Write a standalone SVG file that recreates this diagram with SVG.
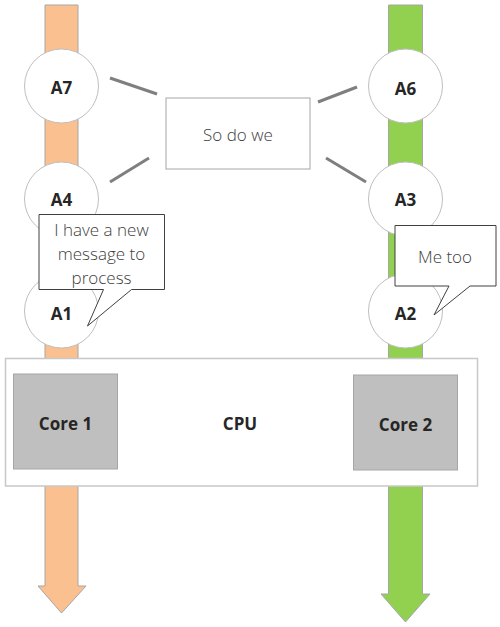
<svg xmlns="http://www.w3.org/2000/svg" width="500" height="627" viewBox="0 0 500 627">
<style>
.arrow{stroke:#a6a6a6;stroke-width:1}
.node circle{fill:#fff;stroke:#bfbfbf;stroke-width:1}
.lbl{font-family:"Open Sans","Noto Sans",sans-serif;font-weight:bold;font-size:17px;fill:#262626;text-anchor:middle;dominant-baseline:central}
.txt{font-family:"Open Sans","Noto Sans",sans-serif;font-weight:300;font-size:17px;fill:#404040;text-anchor:middle;dominant-baseline:central}
.conn line{stroke:#7f7f7f;stroke-width:3}
.bubble{fill:#fff;stroke:#404040;stroke-width:1}
.core{fill:#bfbfbf;stroke:#a6a6a6;stroke-width:1}
</style>
<g id="arrow-left"><path class="arrow" fill="#fac090" d="M45,5 H78 V586 H86 L61.5,613 L38,586 H45 Z"/></g>
<g id="arrow-right"><path class="arrow" fill="#92d050" d="M388.5,5 H422.5 V594 H430 L405.5,622 L381,594 H388.5 Z"/></g>
<g id="connectors" class="conn">
<line x1="110" y1="78" x2="157" y2="94"/>
<line x1="110" y1="182" x2="149" y2="158"/>
<line x1="318" y1="102" x2="357" y2="87"/>
<line x1="326" y1="158" x2="366" y2="182"/>
</g>
<g id="A7" class="node"><circle cx="61.5" cy="86" r="37"/><text class="lbl" x="61.5" y="87">A7</text></g>
<g id="A4" class="node"><circle cx="61.5" cy="199" r="37"/><text class="lbl" x="61.5" y="199">A4</text></g>
<g id="A1" class="node"><circle cx="61.5" cy="311" r="37"/><text class="lbl" x="61.5" y="313">A1</text></g>
<g id="A6" class="node"><circle cx="405.5" cy="86" r="37"/><text class="lbl" x="405.5" y="88">A6</text></g>
<g id="A3" class="node"><circle cx="405.5" cy="199" r="37"/><text class="lbl" x="405.5" y="199">A3</text></g>
<g id="A2" class="node"><circle cx="405.5" cy="311" r="37"/><text class="lbl" x="405.5" y="313">A2</text></g>
<g id="sodowe"><rect x="166" y="98" width="144" height="71" fill="#fff" stroke="#a6a6a6"/><text class="txt" x="238" y="134">So do we</text></g>
<g id="bubble1"><path class="bubble" d="M39,214.5 H164.5 V289.5 H131.5 L87.5,326 L103.5,289.5 H39 Z"/>
<text class="txt" x="101.5" y="229">I have a new</text>
<text class="txt" x="101.5" y="253">message to</text>
<text class="txt" x="101.5" y="277">process</text></g>
<g id="bubble2"><path class="bubble" d="M395,225.5 H496 V286 H470 L434,315 L449,286 H395 Z"/>
<text class="txt" x="445" y="256">Me too</text></g>
<g id="cpu"><rect x="5.5" y="358.5" width="472" height="127.5" fill="#fff" stroke="#c8c8c8" stroke-width="1.5"/>
<text class="lbl" x="240" y="423" font-size="18">CPU</text></g>
<g id="core1"><rect class="core" x="13.5" y="374" width="104" height="95"/><text class="lbl" x="65.5" y="423" font-size="18">Core 1</text></g>
<g id="core2"><rect class="core" x="353.5" y="375" width="104" height="95"/><text class="lbl" x="405.5" y="424" font-size="18">Core 2</text></g>
</svg>
